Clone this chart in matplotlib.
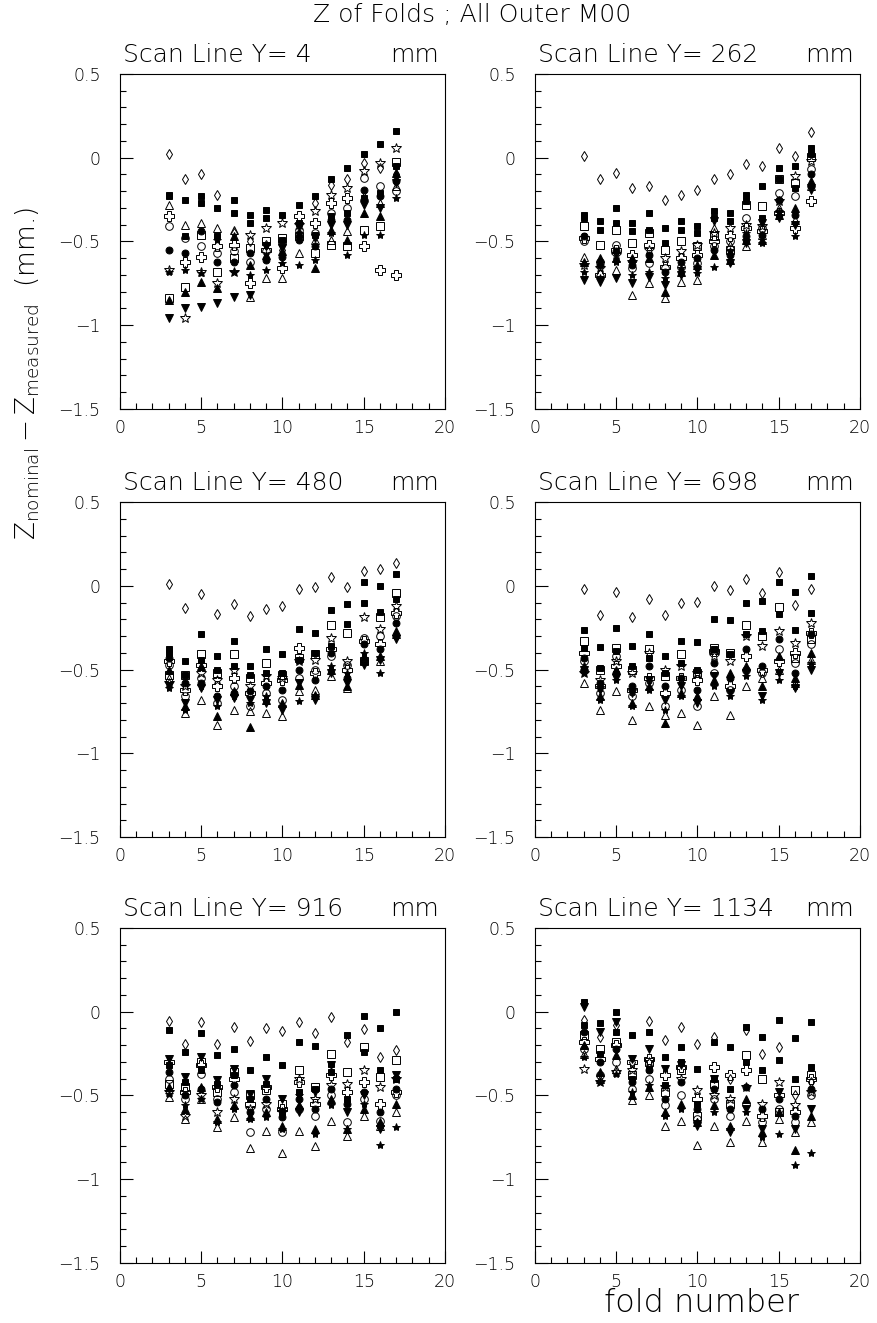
import numpy as np
import matplotlib
matplotlib.use("Agg")
import matplotlib.pyplot as plt
from matplotlib.ticker import MultipleLocator, FixedLocator

plt.rcParams['font.family'] = ['DejaVu Sans']
plt.rcParams['font.weight'] = 'light'
plt.rcParams['mathtext.fontset'] = 'custom'
plt.rcParams['mathtext.rm'] = 'DejaVu Sans:light'
plt.rcParams['mathtext.it'] = 'DejaVu Sans:light'
plt.rcParams['axes.unicode_minus'] = True

folds = np.arange(3, 18)
scan_lines = [4, 262, 480, 698, 916, 1134]

# one marker per module: (marker, filled, size)
styles = [('s', True, 5), ('d', False, 5.5), ('*', False, 7), ('P', False, 6.5),
          ('s', False, 6), ('o', False, 5.5), ('o', True, 5), ('^', True, 5.5),
          ('^', False, 6), ('v', True, 5.5), ('*', True, 6), ('s', True, 5)]

# Z nominal - Z measured (mm), rows follow styles, columns are folds 3..17
z_y4 = np.array([
    [-0.23, -0.25, -0.23, -0.30, -0.25, -0.34, -0.31, -0.34, -0.28, -0.23, -0.13, -0.06, 0.02, 0.08, 0.16],
    [0.02, -0.13, -0.10, -0.22, -0.45, -0.50, -0.52, -0.55, -0.45, -0.27, -0.16, -0.13, -0.03, -0.06, -0.10],
    [-0.67, -0.96, -0.68, -0.75, -0.68, -0.46, -0.42, -0.39, -0.40, -0.32, -0.22, -0.18, -0.08, -0.03, 0.06],
    [-0.35, -0.62, -0.59, -0.53, -0.52, -0.75, -0.55, -0.66, -0.35, -0.39, -0.27, -0.24, -0.53, -0.67, -0.70],
    [-0.84, -0.77, -0.46, -0.68, -0.60, -0.54, -0.50, -0.48, -0.47, -0.57, -0.52, -0.53, -0.43, -0.41, -0.025],
    [-0.41, -0.48, -0.53, -0.57, -0.56, -0.62, -0.56, -0.51, -0.43, -0.45, -0.33, -0.30, -0.12, -0.17, -0.20],
    [-0.55, -0.57, -0.44, -0.62, -0.62, -0.57, -0.61, -0.59, -0.49, -0.53, -0.37, -0.37, -0.19, -0.23, -0.14],
    [-0.85, -0.80, -0.74, -0.78, -0.47, -0.64, -0.58, -0.56, -0.45, -0.66, -0.43, -0.49, -0.33, -0.35, -0.09],
    [-0.28, -0.40, -0.39, -0.42, -0.43, -0.83, -0.72, -0.72, -0.57, -0.49, -0.49, -0.44, -0.23, -0.27, -0.17],
    [-0.96, -0.90, -0.89, -0.87, -0.83, -0.82, -0.53, -0.54, -0.41, -0.48, -0.40, -0.40, -0.28, -0.30, -0.15],
    [-0.68, -0.67, -0.69, -0.49, -0.68, -0.70, -0.67, -0.63, -0.64, -0.61, -0.45, -0.58, -0.46, -0.46, -0.24],
    [-0.22, -0.47, -0.27, -0.47, -0.33, -0.39, -0.36, -0.49, -0.39, -0.46, -0.35, -0.33, -0.24, -0.21, -0.05],
])

z_y262 = np.array([
    [-0.34, -0.38, -0.30, -0.39, -0.33, -0.42, -0.38, -0.41, -0.32, -0.33, -0.22, -0.17, -0.06, -0.05, 0.06],
    [0.01, -0.13, -0.09, -0.18, -0.17, -0.25, -0.22, -0.19, -0.13, -0.10, -0.04, -0.05, 0.06, 0.01, 0.155],
    [-0.64, -0.66, -0.58, -0.62, -0.55, -0.60, -0.56, -0.52, -0.45, -0.42, -0.40, -0.41, -0.26, -0.11, -0.02],
    [-0.48, -0.70, -0.55, -0.58, -0.52, -0.65, -0.60, -0.58, -0.50, -0.47, -0.42, -0.44, -0.33, -0.42, -0.26],
    [-0.41, -0.52, -0.43, -0.51, -0.45, -0.55, -0.50, -0.53, -0.47, -0.55, -0.28, -0.29, -0.13, -0.15, 0.006],
    [-0.50, -0.62, -0.52, -0.66, -0.63, -0.66, -0.65, -0.63, -0.53, -0.50, -0.36, -0.42, -0.21, -0.23, -0.07],
    [-0.47, -0.64, -0.56, -0.64, -0.58, -0.68, -0.62, -0.60, -0.55, -0.58, -0.47, -0.46, -0.25, -0.34, -0.10],
    [-0.62, -0.60, -0.60, -0.60, -0.60, -0.80, -0.68, -0.64, -0.58, -0.61, -0.49, -0.49, -0.34, -0.30, -0.14],
    [-0.59, -0.68, -0.67, -0.82, -0.75, -0.84, -0.74, -0.73, -0.42, -0.52, -0.53, -0.46, -0.30, -0.37, -0.17],
    [-0.73, -0.74, -0.72, -0.75, -0.71, -0.76, -0.70, -0.67, -0.38, -0.63, -0.51, -0.39, -0.36, -0.40, -0.19],
    [-0.68, -0.72, -0.62, -0.70, -0.68, -0.72, -0.66, -0.69, -0.65, -0.56, -0.45, -0.51, -0.32, -0.47, -0.16],
    [-0.36, -0.43, -0.39, -0.44, -0.43, -0.51, -0.43, -0.45, -0.36, -0.38, -0.26, -0.36, -0.13, -0.18, 0.02],
])

z_y480 = np.array([
    [-0.38, -0.45, -0.29, -0.42, -0.33, -0.48, -0.38, -0.41, -0.26, -0.28, -0.145, -0.11, 0.02, 0.00, 0.07],
    [0.01, -0.13, -0.05, -0.17, -0.11, -0.18, -0.14, -0.12, -0.02, -0.01, 0.05, -0.01, 0.09, 0.10, 0.135],
    [-0.58, -0.60, -0.52, -0.56, -0.50, -0.60, -0.54, -0.55, -0.45, -0.44, -0.31, -0.45, -0.185, -0.26, -0.12],
    [-0.45, -0.62, -0.47, -0.60, -0.55, -0.64, -0.58, -0.56, -0.37, -0.52, -0.38, -0.50, -0.33, -0.35, -0.16],
    [-0.53, -0.53, -0.41, -0.52, -0.41, -0.55, -0.46, -0.53, -0.43, -0.41, -0.235, -0.28, -0.45, -0.185, -0.045],
    [-0.47, -0.66, -0.55, -0.70, -0.60, -0.72, -0.64, -0.68, -0.55, -0.50, -0.42, -0.47, -0.31, -0.30, -0.18],
    [-0.43, -0.58, -0.58, -0.66, -0.64, -0.63, -0.60, -0.62, -0.50, -0.56, -0.40, -0.55, -0.35, -0.38, -0.22],
    [-0.50, -0.72, -0.48, -0.78, -0.63, -0.84, -0.68, -0.70, -0.59, -0.65, -0.50, -0.60, -0.42, -0.42, -0.27],
    [-0.55, -0.76, -0.68, -0.83, -0.74, -0.75, -0.76, -0.78, -0.63, -0.62, -0.54, -0.61, -0.44, -0.45, -0.29],
    [-0.60, -0.70, -0.61, -0.68, -0.67, -0.68, -0.70, -0.74, -0.58, -0.68, -0.52, -0.58, -0.47, -0.44, -0.32],
    [-0.61, -0.74, -0.60, -0.72, -0.66, -0.70, -0.66, -0.72, -0.69, -0.66, -0.48, -0.52, -0.40, -0.52, -0.30],
    [-0.40, -0.53, -0.44, -0.50, -0.48, -0.53, -0.52, -0.52, -0.44, -0.40, -0.36, -0.23, -0.105, -0.155, -0.08],
])

z_y698 = np.array([
    [-0.265, -0.365, -0.25, -0.36, -0.285, -0.42, -0.33, -0.335, -0.20, -0.205, -0.10, -0.09, 0.024, -0.036, 0.058],
    [-0.02, -0.175, -0.035, -0.185, -0.08, -0.175, -0.10, -0.095, 0.0, -0.025, 0.04, -0.045, 0.08, -0.115, -0.02],
    [-0.52, -0.56, -0.45, -0.52, -0.40, -0.50, -0.48, -0.52, -0.42, -0.45, -0.30, -0.36, -0.27, -0.34, -0.22],
    [-0.40, -0.60, -0.48, -0.62, -0.55, -0.64, -0.55, -0.56, -0.39, -0.60, -0.42, -0.50, -0.45, -0.40, -0.28],
    [-0.33, -0.50, -0.37, -0.50, -0.38, -0.54, -0.41, -0.52, -0.37, -0.40, -0.235, -0.30, -0.125, -0.43, -0.32],
    [-0.45, -0.64, -0.42, -0.66, -0.58, -0.72, -0.62, -0.72, -0.52, -0.62, -0.50, -0.52, -0.38, -0.46, -0.35],
    [-0.43, -0.58, -0.52, -0.60, -0.48, -0.60, -0.55, -0.62, -0.46, -0.55, -0.38, -0.48, -0.32, -0.52, -0.29],
    [-0.48, -0.66, -0.50, -0.70, -0.60, -0.82, -0.64, -0.66, -0.56, -0.52, -0.48, -0.60, -0.42, -0.55, -0.40],
    [-0.58, -0.74, -0.63, -0.80, -0.72, -0.77, -0.76, -0.83, -0.66, -0.77, -0.60, -0.55, -0.50, -0.58, -0.44],
    [-0.50, -0.62, -0.55, -0.64, -0.56, -0.68, -0.60, -0.70, -0.54, -0.64, -0.52, -0.66, -0.52, -0.61, -0.50],
    [-0.52, -0.68, -0.56, -0.72, -0.62, -0.74, -0.66, -0.68, -0.60, -0.66, -0.54, -0.68, -0.56, -0.60, -0.46],
    [-0.37, -0.49, -0.39, -0.48, -0.43, -0.52, -0.46, -0.50, -0.38, -0.41, -0.285, -0.27, -0.17, -0.265, -0.165],
])

z_y916 = np.array([
    [-0.11, -0.24, -0.13, -0.26, -0.22, -0.35, -0.27, -0.32, -0.18, -0.205, -0.31, -0.14, -0.024, -0.095, -0.004],
    [-0.055, -0.19, -0.064, -0.195, -0.09, -0.175, -0.10, -0.115, -0.064, -0.13, -0.034, -0.18, -0.105, -0.27, -0.23],
    [-0.48, -0.62, -0.50, -0.60, -0.52, -0.58, -0.55, -0.60, -0.40, -0.52, -0.44, -0.43, -0.35, -0.45, -0.40],
    [-0.30, -0.48, -0.32, -0.45, -0.40, -0.55, -0.45, -0.58, -0.42, -0.55, -0.38, -0.48, -0.42, -0.55, -0.48],
    [-0.43, -0.45, -0.30, -0.48, -0.36, -0.50, -0.47, -0.55, -0.35, -0.45, -0.25, -0.36, -0.21, -0.39, -0.29],
    [-0.40, -0.52, -0.37, -0.52, -0.48, -0.72, -0.58, -0.72, -0.58, -0.62, -0.50, -0.66, -0.52, -0.65, -0.50],
    [-0.36, -0.50, -0.46, -0.54, -0.44, -0.60, -0.52, -0.63, -0.52, -0.58, -0.46, -0.55, -0.48, -0.60, -0.46],
    [-0.45, -0.58, -0.45, -0.64, -0.56, -0.62, -0.60, -0.68, -0.56, -0.70, -0.52, -0.70, -0.58, -0.66, -0.55],
    [-0.51, -0.64, -0.52, -0.69, -0.63, -0.815, -0.71, -0.845, -0.71, -0.80, -0.65, -0.74, -0.62, -0.68, -0.60],
    [-0.28, -0.39, -0.27, -0.41, -0.34, -0.49, -0.40, -0.52, -0.60, -0.48, -0.32, -0.60, -0.50, -0.70, -0.38],
    [-0.49, -0.56, -0.52, -0.66, -0.58, -0.64, -0.63, -0.70, -0.50, -0.73, -0.56, -0.70, -0.55, -0.795, -0.69],
    [-0.32, -0.42, -0.35, -0.43, -0.38, -0.52, -0.43, -0.60, -0.48, -0.46, -0.36, -0.52, -0.24, -0.35, -0.40],
])

z_y1134 = np.array([
    [0.06, -0.07, 0.00, -0.14, -0.12, -0.27, -0.21, -0.34, -0.18, -0.21, -0.09, -0.15, -0.05, -0.155, -0.064],
    [-0.05, -0.15, -0.08, -0.30, -0.055, -0.17, -0.09, -0.19, -0.15, -0.40, -0.11, -0.25, -0.21, -0.50, -0.42],
    [-0.345, -0.42, -0.36, -0.35, -0.30, -0.45, -0.40, -0.47, -0.50, -0.52, -0.45, -0.55, -0.42, -0.56, -0.48],
    [-0.18, -0.28, -0.20, -0.30, -0.28, -0.38, -0.33, -0.52, -0.33, -0.38, -0.35, -0.62, -0.50, -0.60, -0.40],
    [-0.14, -0.22, -0.18, -0.38, -0.30, -0.48, -0.35, -0.62, -0.43, -0.55, -0.26, -0.40, -0.60, -0.47, -0.38],
    [-0.22, -0.38, -0.30, -0.46, -0.40, -0.56, -0.50, -0.64, -0.52, -0.62, -0.55, -0.66, -0.58, -0.66, -0.50],
    [-0.12, -0.30, -0.22, -0.42, -0.35, -0.52, -0.42, -0.58, -0.46, -0.58, -0.45, -0.58, -0.52, -0.62, -0.46],
    [-0.20, -0.36, -0.26, -0.50, -0.45, -0.60, -0.55, -0.66, -0.56, -0.68, -0.52, -0.72, -0.60, -0.825, -0.62],
    [-0.25, -0.40, -0.34, -0.53, -0.50, -0.68, -0.65, -0.795, -0.68, -0.78, -0.65, -0.78, -0.64, -0.72, -0.66],
    [0.03, -0.12, -0.06, -0.28, -0.22, -0.34, -0.32, -0.68, -0.40, -0.72, -0.58, -0.70, -0.48, -0.70, -0.58],
    [-0.27, -0.42, -0.37, -0.48, -0.44, -0.62, -0.58, -0.66, -0.60, -0.70, -0.60, -0.75, -0.73, -0.915, -0.845],
    [-0.08, -0.25, -0.12, -0.40, -0.34, -0.44, -0.30, -0.55, -0.40, -0.46, -0.30, -0.35, -0.29, -0.40, -0.33],
])

panels = [z_y4, z_y262, z_y480, z_y698, z_y916, z_y1134]

fig = plt.figure(figsize=(8.77, 13.23), dpi=100)

# axes boxes in figure fractions
lefts = [0.1368, 0.610]
bottoms = [0.6909, 0.3673, 0.0454]
width, height = 0.3706, 0.2532

yticks = [-1.5, -1, -0.5, 0, 0.5]
ylabels = ['\u22121.5', '\u22121', '\u22120.5', '0', '0.5']

for k, (yscan, z) in enumerate(zip(scan_lines, panels)):
    row, col = divmod(k, 2)
    ax = fig.add_axes([lefts[col], bottoms[row], width, height])
    for (m, filled, ms), vals in zip(styles, z):
        ax.plot(folds, vals, linestyle='none', marker=m, ms=ms,
                mfc='black' if filled else 'none', mec='black', mew=0.7)

    ax.set_xlim(0, 20)
    ax.set_ylim(-1.5, 0.5)
    ax.xaxis.set_major_locator(FixedLocator([0, 5, 10, 15, 20]))
    ax.xaxis.set_minor_locator(MultipleLocator(1))
    ax.yaxis.set_major_locator(FixedLocator(yticks))
    ax.yaxis.set_minor_locator(MultipleLocator(0.1))
    ax.set_yticklabels(ylabels)
    ax.tick_params(which='both', direction='in', top=False, right=False, width=0.8)
    ax.tick_params(which='major', length=9, labelsize=12.5)
    ax.tick_params(axis='y', which='major', pad=14)
    ax.tick_params(axis='x', which='major', pad=7)
    ax.tick_params(which='minor', length=4.5)
    for s in ax.spines.values():
        s.set_linewidth(0.8)

    ax.text(0.01, 1.022, 'Scan Line Y= %d' % yscan, transform=ax.transAxes,
            fontsize=18, ha='left', va='bottom')
    ax.text(0.98, 1.022, 'mm', transform=ax.transAxes,
            fontsize=18, ha='right', va='bottom')

fig.text(0.538, 0.989, 'Z of Folds ; All Outer M00', ha='center', va='center', fontsize=18)
fig.text(0.032, 0.718, r'$Z_{nominal} - Z_{measured}$  (mm.)', rotation=90,
         ha='center', va='center', fontsize=19)
fig.text(0.80, 0.015, 'fold number', ha='center', va='center', fontsize=23)

fig.savefig('out.png', dpi=100)
